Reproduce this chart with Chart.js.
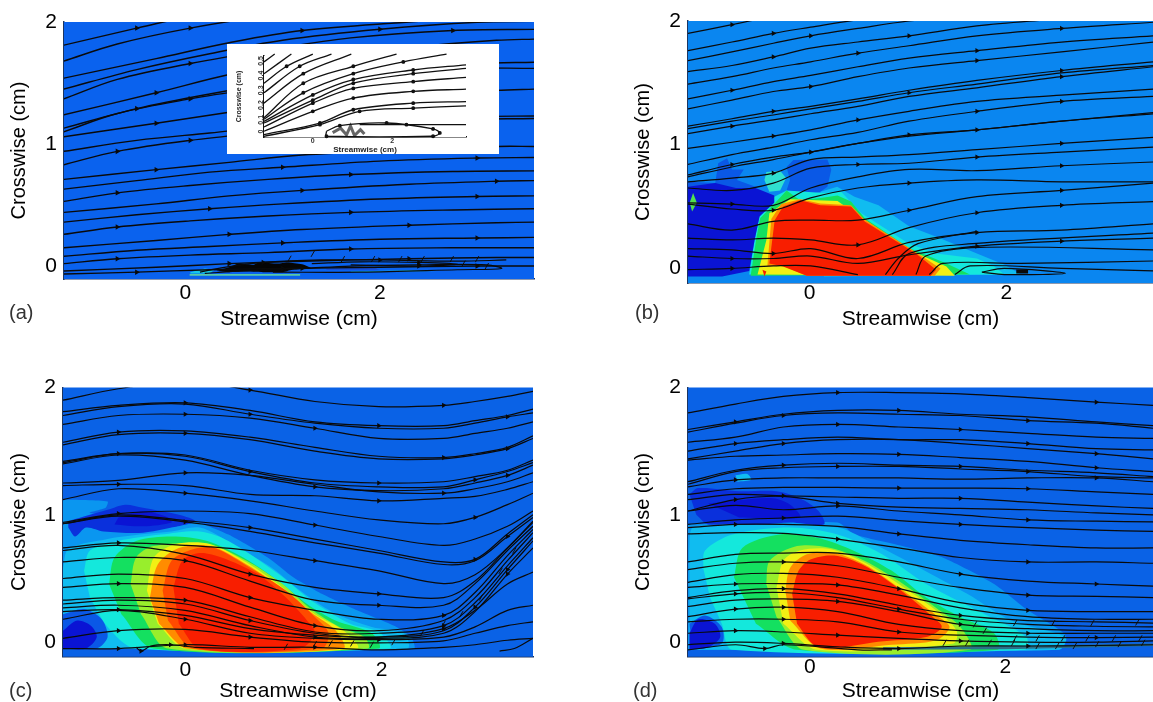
<!DOCTYPE html>
<html>
<head>
<meta charset="utf-8">
<script src="https://cdn.jsdelivr.net/npm/chart.js@4"></script>
<style>
body { margin: 0; background: #fff; }
canvas { position: absolute; filter: blur(0.4px); }
</style>
</head>
<body>
<canvas id="panelA" width="560" height="330" style="left:0;top:0"></canvas>
<canvas id="panelB" width="533" height="330" style="left:620px;top:0"></canvas>
<canvas id="panelC" width="560" height="332" style="left:0;top:370px"></canvas>
<canvas id="panelD" width="533" height="332" style="left:620px;top:370px"></canvas>
<canvas id="inset" width="272" height="110" style="left:227px;top:44px;background:#fff"></canvas>
<script>
const xTickValues = [0, 2];
const yTickValues = [0, 1, 2];
const insetYTicks = [0, 0.1, 0.2, 0.3, 0.4, 0.5];

// panel (a)
const aGrids = [
  [-1.25, -0.5, 0.25, 1, 2, 3, 3.6],
  [-1.25, -0.7, 0.05, 0.85, 1.7, 2.75, 3.6],
  [-1.25, -0.3, 0.45, 1.2, 2.3, 3.2, 3.6]
];
const aLines = [
  [1.81, 1.95, 2.08, 2.18, 2.28, 2.35, 2.38],
  [1.68, 1.82, 1.95, 2.05, 2.12, 2.17, 2.19],
  [1.54, 1.70, 1.83, 1.93, 2.00, 2.05, 2.07],
  [1.45, 1.61, 1.74, 1.85, 1.94, 1.998, 2.005],
  [1.37, 1.53, 1.66, 1.77, 1.87, 1.93, 1.94],
  [1.24, 1.42, 1.57, 1.68, 1.79, 1.85, 1.86],
  [1.13, 1.29, 1.41, 1.51, 1.61, 1.66, 1.67],
  [1.10, 1.25, 1.37, 1.47, 1.57, 1.62, 1.62],
  [1.06, 1.17, 1.26, 1.34, 1.40, 1.44, 1.45],
  [0.94, 1.03, 1.09, 1.15, 1.20, 1.225, 1.23],
  [0.83, 0.94, 1.03, 1.10, 1.17, 1.20, 1.21],
  [0.71, 0.79, 0.85, 0.91, 0.95, 0.98, 0.98],
  [0.63, 0.70, 0.77, 0.81, 0.86, 0.885, 0.89],
  [0.53, 0.60, 0.66, 0.71, 0.75, 0.775, 0.78],
  [0.44, 0.51, 0.575, 0.62, 0.67, 0.695, 0.70],
  [0.36, 0.42, 0.47, 0.51, 0.55, 0.57, 0.575],
  [0.26, 0.32, 0.37, 0.41, 0.44, 0.46, 0.47],
  [0.15, 0.21, 0.26, 0.30, 0.335, 0.355, 0.36],
  [0.08, 0.13, 0.16, 0.19, 0.22, 0.23, 0.235],
  [0.02, 0.06, 0.09, 0.11, 0.14, 0.15, 0.15],
  [-0.04, -0.01, 0.02, 0.04, 0.06, 0.07, 0.07],
  [-0.065, -0.05, -0.03, -0.02, -0.01, 0, 0]
];
const aMarks = [[1], [2], [3], [4], [2, 5], [1], [1, 4], [2], [1, 3], [5], [1, 2, 4],
  [1, 4], [3, 5], [1, 4], [3, 5], [2, 5], [1, 4], [2, 4], [3, 5], [1, 4], [2, 4], [1, 3, 5]];
const aLoops = [
  [[0.15, -0.05], [0.4, -0.01], [0.8, 0.03], [1.4, 0.05], [2, 0.05], [2.8, 0.04], [3.3, 0.05]],
  [[0.2, -0.06], [0.6, -0.04], [1.2, -0.02], [1.7, 0], [2.4, 0.01], [3.1, 0.01], [3.25, -0.02], [2.8, -0.03], [1.8, -0.05], [0.9, -0.05]],
  [[1.3, 0.02], [1.8, 0.035], [2.4, 0.03], [2.8, 0.015], [2.4, 0], [1.7, 0.01]]
];
const aTickX = [1.31, 1.62, 1.93, 2.21, 2.44, 2.74, 3.0, 1.07, 2.86, 3.10];
const aTickY = [0.10, 0.057, 0.057, 0.057, 0.057, 0.057, 0.057, 0.06, 0.02, 0];
const aBlob = [[0.32, -0.04], [0.45, -0.01], [0.55, 0.02], [0.7, 0.01], [0.75, 0.03], [0.95, 0.02], [1.05, 0.03], [1.2, 0.015], [1.3, -0.02], [1.1, -0.03], [1.0, -0.05], [0.8, -0.05], [0.6, -0.045], [0.45, -0.05]];
const aStrip = [[0.044, -0.065], [1.18, -0.065], [1.18, -0.08], [0.044, -0.08]];
const aSpotLeft = [[0.05, -0.05], [0.2, -0.02], [0.3, -0.03], [0.25, -0.06], [0.05, -0.06]];
const aSpotRight = [[1.7, -0.045], [2.3, -0.035], [2.6, -0.04], [1.7, -0.05]];
const aBlueBits = [[1.45, -0.02], [1.95, -0.015], [2.0, -0.03], [1.45, -0.03]];

// panel (b)
const bX = [-1.24, -0.79, -0.37, 0.01, 0.49, 1.01, 1.70, 2.56, 3.49];
const bLines = [
  [1.90, 1.97, 2.04, 2.09, 2.14, 2.19, 2.25, 2.27, 2.30],
  [1.76, 1.83, 1.90, 1.95, 2.01, 2.06, 2.11, 2.17, 2.19],
  [1.68, 1.75, 1.82, 1.88, 1.94, 2.00, 2.05, 2.10, 2.15],
  [1.59, 1.64, 1.71, 1.78, 1.83, 1.88, 1.96, 2.02, 2.09],
  [1.49, 1.55, 1.62, 1.67, 1.74, 1.80, 1.88, 1.94, 1.99],
  [1.37, 1.44, 1.51, 1.56, 1.63, 1.70, 1.76, 1.83, 1.88],
  [1.29, 1.36, 1.43, 1.47, 1.55, 1.62, 1.68, 1.75, 1.83],
  [1.15, 1.21, 1.27, 1.31, 1.37, 1.44, 1.52, 1.60, 1.67],
  [1.13, 1.19, 1.24, 1.29, 1.35, 1.42, 1.49, 1.58, 1.64],
  [1.09, 1.15, 1.20, 1.25, 1.31, 1.39, 1.46, 1.55, 1.63],
  [0.97, 1.02, 1.07, 1.12, 1.20, 1.27, 1.35, 1.40, 1.45],
  [0.84, 0.92, 0.98, 1.04, 1.10, 1.19, 1.27, 1.35, 1.39],
  [0.755, 0.84, 0.90, 0.94, 1.01, 1.08, 1.12, 1.19, 1.26],
  [0.74, 0.82, 0.88, 0.94, 1.01, 1.07, 1.12, 1.19, 1.25],
  [0.70, 0.73, 0.77, 0.88, 0.90, 0.92, 0.96, 1.01, 1.06],
  [0.65, 0.63, 0.69, 0.81, 0.84, 0.85, 0.90, 0.94, 0.98],
  [0.53, 0.52, 0.51, 0.65, 0.74, 0.80, 0.79, 0.83, 0.86],
  [0.52, 0.48, 0.47, 0.57, 0.65, 0.69, 0.715, 0.70, 0.70],
  [0.36, 0.31, 0.38, 0.39, 0.39, 0.47, 0.58, 0.63, 0.69],
  [0.245, 0.23, 0.245, 0.23, 0.19, 0.33, 0.45, 0.51, 0.54],
  [0.16, 0.15, 0.12, 0.16, 0.08, 0.21, 0.29, 0.31, 0.36],
  [0.10, 0.08, 0.08, 0.10, 0.04, 0.11, 0.18, 0.22, 0.245],
  [-0.01, 0, 0.02, 0.02, -0.05, null, null, null, null]
];
const bMarks = [[1], [2], [3], [2, 5], [4, 7], [1, 6], [3, 6], [2, 7], [5], [1, 7], [2, 4], [6, 7], [1, 5], [3, 6],
  [2, 7], [4, 6], [1, 7], [2, 5], [5, 7], [4, 6, 7], [2, 6], [1, 6, 7], [1]];
const bExtra = [
  [[1.216, -0.05], [1.354, 0.04], [2.15, 0.04], [3.49, 0.06]],
  [[1.475, -0.05], [1.63, 0.02], [2.56, 0], [3.49, -0.02]],
  [[0.77, -0.05], [0.90, 0.08], [1.10, 0.20], [1.7, 0.30]],
  [[0.84, -0.05], [1.01, 0.12], [1.66, 0.20], [3.49, 0.285]],
  [[1.08, -0.05], [1.18, 0.10], [1.73, 0.17], [3.49, 0.15]],
  [[1.75, -0.03], [1.98, 0], [2.6, -0.04], [1.98, -0.05], [1.75, -0.03]]
];
const bBlob = [[2.10, -0.025], [2.22, -0.025]];
const bBlobLeft = [[-0.96, 0.69], [-0.93, 0.85], [-0.84, 0.89], [-0.79, 0.80], [-0.67, 0.80], [-0.74, 0.715], [-0.55, 0.66], [-0.55, 0.62], [-1.24, 0.62], [-1.24, 0.70]];
const bBlobMid = [[-0.235, 0.82], [-0.166, 0.876], [0.18, 0.88], [0.22, 0.80], [0.18, 0.66], [0.11, 0.62], [-0.097, 0.58], [-0.235, 0.63], [-0.20, 0.715]];
const bDeep = [[-1.24, 0.66], [-0.96, 0.69], [-0.75, 0.65], [-0.55, 0.65], [-0.36, 0.59], [-0.36, 0.53], [-0.51, 0.42], [-0.56, 0.23], [-0.615, -0.02], [-0.89, -0.065], [-1.24, -0.065]];
const bSpot = [[-1.22, 0.53], [-1.185, 0.61], [-1.147, 0.53], [-1.195, 0.46]];
const bTopCyan = [[-0.44, 0.78], [-0.30, 0.79], [-0.24, 0.73], [-0.30, 0.63], [-0.41, 0.62], [-0.46, 0.715]];
const bLight = [[0.11, 0.62], [0.28, 0.66], [0.456, 0.58], [0.70, 0.51], [1.01, 0.34], [1.32, 0.245], [1.70, 0.12], [1.98, 0.03], [2.15, -0.05], [0.145, -0.065]];
const bCyan = [[-0.615, -0.05], [-0.56, 0.23], [-0.51, 0.42], [-0.36, 0.58], [-0.235, 0.63], [0.145, 0.61], [0.32, 0.62], [0.525, 0.445], [1.01, 0.20], [1.285, 0.12], [1.70, 0.08], [1.87, 0.02], [1.98, -0.05]];
const bGreen = [[-0.60, -0.06], [-0.545, 0.23], [-0.504, 0.405], [-0.373, 0.51], [-0.235, 0.63], [-0.097, 0.55], [0.11, 0.57], [0.283, 0.59], [0.42, 0.54], [0.56, 0.405], [1.01, 0.165], [1.39, 0.04], [1.63, -0.05]];
const bYellow = [[-0.53, -0.05], [-0.44, 0.23], [-0.41, 0.445], [-0.20, 0.56], [0.283, 0.545], [0.49, 0.43], [1.04, 0.14], [1.39, 0.016], [1.475, -0.06]];
const bOrange = [[-0.43, 0.02], [-0.39, 0.40], [-0.29, 0.52], [-0.097, 0.56], [0.11, 0.525], [0.42, 0.51], [0.55, 0.40], [1.08, 0.13], [1.33, 0], [1.27, -0.06], [-0.03, -0.06], [-0.27, 0.02]];
const bRed = [[-0.41, 0.04], [-0.356, 0.39], [-0.27, 0.50], [-0.097, 0.55], [0.11, 0.51], [0.42, 0.50], [0.56, 0.38], [1.08, 0.12], [1.285, -0.01], [1.23, -0.06], [-0.03, -0.06], [-0.27, 0.016]];
const bRedSpot = [[-0.48, -0.01], [-0.44, -0.025], [-0.46, -0.065]];

// panel (c)
const cX = [-1.244, -0.68, 0, 0.66, 1.32, 1.97, 2.63, 2.95, 3.28, 3.54];
const cLines = [
  [1.90, 1.99, 2.05, 1.98, 1.89, 1.85, 1.86, 1.89, 1.93, 1.97],
  [1.81, 1.86, 1.88, 1.82, 1.73, 1.70, 1.70, 1.74, 1.78, 1.83],
  [1.78, 1.85, 1.87, 1.79, 1.72, 1.68, 1.68, 1.72, 1.77, 1.80],
  [1.71, 1.78, 1.79, 1.76, 1.68, 1.60, 1.60, 1.64, 1.68, 1.73],
  [1.57, 1.65, 1.66, 1.61, 1.53, 1.46, 1.45, 1.48, 1.53, 1.62],
  [1.55, 1.63, 1.64, 1.59, 1.50, 1.44, 1.44, 1.47, 1.52, 1.60],
  [1.42, 1.48, 1.47, 1.35, 1.275, 1.25, 1.26, 1.30, 1.35, 1.43],
  [1.41, 1.48, 1.46, 1.34, 1.25, 1.22, 1.22, 1.275, 1.34, 1.41],
  [1.40, 1.47, 1.43, 1.31, 1.22, 1.19, 1.205, 1.25, 1.31, 1.39],
  [1.25, 1.27, 1.33, 1.31, 1.24, 1.18, 1.17, 1.205, 1.26, 1.33],
  [1.23, 1.24, 1.23, 1.16, 1.15, 1.11, 1.13, 1.145, 1.20, 1.26],
  [1.12, 1.205, 1.17, 1.11, 1.03, 0.96, 0.93, 0.98, 1.08, 1.17],
  [0.94, 1.01, 1.03, 1.01, 0.92, 0.83, 0.76, 0.81, 0.91, 1.03],
  [0.93, 1.00, 0.955, 0.90, 0.81, 0.72, 0.63, 0.65, 0.85, 1.00],
  [0.93, 0.99, 0.945, 0.87, 0.78, 0.70, 0.61, 0.64, 0.83, 0.98],
  [0.74, 0.78, 0.76, 0.72, 0.64, 0.56, 0.46, 0.53, 0.74, 0.95],
  [0.72, 0.76, 0.69, 0.535, 0.43, 0.38, 0.35, 0.48, 0.74, 0.94],
  [0.63, 0.665, 0.64, 0.48, 0.33, 0.29, 0.29, 0.46, 0.72, 0.91],
  [0.50, 0.535, 0.50, 0.35, 0.25, 0.18, 0.21, 0.39, 0.68, 0.885],
  [0.43, 0.46, 0.43, 0.275, 0.13, 0.09, 0.17, 0.35, 0.64, 0.86],
  [0.33, 0.35, 0.33, 0.20, 0.08, 0.07, 0.13, 0.31, 0.60, 0.82],
  [0.30, 0.33, 0.30, 0.17, 0.07, 0.04, 0.09, 0.275, 0.57, 0.795],
  [0.27, 0.29, 0.25, 0.13, 0.04, 0.03, 0.07, 0.24, 0.535, 0.74],
  [0.24, 0.255, 0.21, 0.106, 0.055, 0.04, 0.106, 0.25, 0.457, 0.55],
  [0.18, 0.25, 0.18, 0.07, 0.03, 0.02, 0.04, 0.12, 0.25, 0.29],
  [0.03, 0.09, 0.10, 0.04, 0, -0.005, 0.01, 0.07, 0.13, 0.16],
  [-0.05, -0.05, -0.02, -0.04, -0.04, -0.06, -0.04, -0.02, 0.015, 0.03]
];
const cMarks = [[3, 6], [2, 5], [3, 8], [2, 4], [1, 6], [2, 8], [1, 5], [3, 7], [4, 8], [2, 6], [1, 5], [2, 7], [1, 4], [3, 7],
  [2, 8], [1, 4], [3, 5], [2, 5], [3, 6], [1, 4], [2, 6], [3, 7, 8], [4, 8], [1, 6], [2, 5], [1, 3], [1, 2, 4]];
const cBump = [[-0.5, -0.04], [-0.45, -0.07], [-0.35, -0.03], [-0.15, -0.02], [0.1, -0.04], [0.7, -0.05]];
const cTail = [[3.2, -0.07], [3.35, -0.05], [3.54, 0.03]];
const cTickX = [1.025, 1.32, 1.48, 1.70, 1.90, 2.12, 2.41, 2.63, 2.81, 3.01, 3.21, 3.35];
const cTickY = [-0.036, -0.015, -0.01, -0.01, -0.02, 0, 0.07, 0.145, 0.22, 0.35, 0.56, 0.72];
const cLight = [[-1.244, 1.12], [-0.79, 1.105], [-0.81, 1.055], [-0.97, 1.015], [0.08, 0.95], [0.44, 0.845], [0.84, 0.665], [1.10, 0.51], [1.39, 0.38], [1.75, 0.25], [2.15, 0.12], [2.30, 0.04], [2.33, -0.05], [-1.244, -0.05]];
const cTopBlue = [[-1.19, 0.95], [-0.97, 1.00], [-0.79, 1.04], [-0.61, 1.08], [-0.43, 1.055], [-0.065, 1.00], [0.10, 0.95], [-0.14, 0.90], [-0.43, 0.86], [-0.83, 0.87], [-1.01, 0.90], [-1.12, 0.83], [-1.19, 0.90]];
const cTopDeep = [[-0.68, 0.98], [-0.43, 1.03], [-0.175, 0.98], [-0.14, 0.94], [-0.43, 0.91], [-0.72, 0.925]];
const cSky = [[-1.244, 0.585], [-1.19, 0.73], [-0.79, 0.81], [-0.465, 0.845], [-0.14, 0.87], [0.15, 0.90], [0.48, 0.77], [0.88, 0.585], [1.17, 0.405], [1.50, 0.236], [1.90, 0.12], [2.225, 0.07], [2.26, -0.05], [-1.244, -0.05]];
const cCyan = [[-1.03, 0.56], [-0.97, 0.72], [-0.68, 0.795], [-0.25, 0.845], [0.15, 0.87], [0.44, 0.795], [0.95, 0.535], [1.28, 0.33], [1.68, 0.145], [1.97, 0.08], [2.08, -0.05], [-0.50, -0.05], [-0.79, 0.12], [-0.97, 0.35]];
const cGreen = [[-0.775, 0.457], [-0.72, 0.665], [-0.50, 0.795], [-0.14, 0.83], [0.225, 0.795], [0.59, 0.665], [0.95, 0.48], [1.24, 0.30], [1.53, 0.17], [1.90, 0.07], [1.97, -0.05], [-0.32, -0.05], [-0.65, 0.22]];
const cLime = [[-0.556, 0.457], [-0.50, 0.665], [-0.32, 0.755], [0.225, 0.77], [0.625, 0.64], [0.99, 0.457], [1.28, 0.26], [1.57, 0.12], [1.825, 0.04], [1.86, -0.05], [-0.175, -0.05], [-0.45, 0.22]];
const cYellow = [[-0.39, 0.405], [-0.32, 0.665], [-0.10, 0.77], [0.26, 0.77], [0.625, 0.625], [0.99, 0.43], [1.32, 0.22], [1.61, 0.093], [1.75, -0.05], [0, -0.05], [-0.28, 0.145]];
const cOrange = [[-0.36, 0.35], [-0.28, 0.61], [-0.065, 0.74], [0.26, 0.755], [0.625, 0.61], [0.99, 0.42], [1.28, 0.236], [1.53, 0.093], [1.61, -0.05], [0.025, -0.05], [-0.265, 0.145]];
const cRedOrange = [[-0.23, 0.405], [-0.14, 0.64], [0.08, 0.73], [0.30, 0.74], [0.66, 0.585], [1.025, 0.405], [1.32, 0.197], [1.46, 0.07], [1.39, -0.05], [0.08, -0.05], [-0.175, 0.17]];
const cRed = [[-0.12, 0.43], [-0.03, 0.64], [0.15, 0.70], [0.37, 0.665], [0.735, 0.535], [1.025, 0.35], [1.24, 0.17], [1.32, 0.07], [1.17, -0.05], [0.15, -0.05], [-0.065, 0.145]];
const cRing = [[-1.244, 0.22], [-1.03, 0.26], [-0.85, 0.18], [-0.79, 0.04], [-0.90, -0.05], [-1.244, -0.05]];
const cLowDeep = [[-1.244, 0.09], [-1.10, 0.17], [-0.96, 0.13], [-0.90, 0.04], [-1.01, -0.05], [-1.244, -0.05]];

// panel (d)
const dX = [-1.245, -0.76, -0.27, 0.285, 0.91, 1.54, 2.23, 2.93, 3.51];
const dLines = [
  [1.80, 1.87, 1.93, 1.96, 1.96, 1.95, 1.92, 1.885, 1.86],
  [1.67, 1.73, 1.79, 1.82, 1.82, 1.79, 1.77, 1.73, 1.70],
  [1.65, 1.72, 1.78, 1.80, 1.79, 1.78, 1.74, 1.72, 1.68],
  [1.57, 1.61, 1.69, 1.71, 1.69, 1.67, 1.64, 1.61, 1.60],
  [1.50, 1.56, 1.59, 1.61, 1.59, 1.59, 1.56, 1.52, 1.51],
  [1.44, 1.50, 1.56, 1.59, 1.59, 1.56, 1.52, 1.48, 1.44],
  [1.43, 1.46, 1.47, 1.48, 1.475, 1.45, 1.42, 1.37, 1.34],
  [1.26, 1.35, 1.39, 1.405, 1.39, 1.38, 1.35, 1.33, 1.30],
  [1.24, 1.34, 1.37, 1.38, 1.38, 1.36, 1.34, 1.30, 1.29],
  [1.22, 1.275, 1.29, 1.29, 1.29, 1.28, 1.29, 1.29, 1.26],
  [1.16, 1.205, 1.215, 1.215, 1.21, 1.21, 1.205, 1.18, 1.16],
  [1.12, 1.16, 1.15, 1.14, 1.13, 1.13, 1.10, 1.07, 1.05],
  [1.03, 1.12, 1.145, 1.09, 1.06, 1.05, 1.04, 1.015, 1.00],
  [1.03, 1.075, 1.04, 1.07, 1.03, 1.00, 0.96, 0.95, 0.945],
  [0.925, 0.96, 0.975, 0.99, 0.955, 0.925, 0.90, 0.88, 0.87],
  [0.90, 0.925, 0.925, 0.91, 0.85, 0.80, 0.765, 0.74, 0.74],
  [0.85, 0.86, 0.855, 0.81, 0.74, 0.665, 0.63, 0.63, 0.62],
  [0.63, 0.69, 0.70, 0.70, 0.63, 0.535, 0.48, 0.457, 0.44],
  [0.57, 0.62, 0.63, 0.60, 0.51, 0.43, 0.37, 0.36, 0.35],
  [0.47, 0.53, 0.54, 0.51, 0.42, 0.31, 0.25, 0.24, 0.24],
  [0.43, 0.457, 0.46, 0.45, 0.37, 0.27, 0.20, 0.18, 0.18],
  [0.35, 0.405, 0.42, 0.38, 0.29, 0.21, 0.17, 0.16, 0.15],
  [0.34, 0.38, 0.39, 0.35, 0.26, 0.18, 0.14, 0.125, 0.12],
  [0.28, 0.33, 0.34, 0.32, 0.24, 0.14, 0.106, 0.09, 0.09],
  [0.20, 0.26, 0.275, 0.24, 0.14, 0.09, 0.07, 0.07, 0.07],
  [0.16, 0.18, 0.18, 0.16, 0.08, 0.055, 0.04, 0.036, 0.04],
  [0.07, 0.09, 0.08, 0.055, 0.03, 0.01, 0, 0, 0.01],
  [-0.02, 0, -0.01, -0.036, -0.05, -0.03, -0.03, -0.026, -0.02]
];
const dMarks = [[3, 7], [1, 4], [2, 6], [3, 5], [1, 6], [2, 7], [4, 7], [2, 5], [3, 6], [1, 7], [4, 6], [2, 5], [1, 3], [3, 6],
  [2, 5], [1, 4], [3, 6], [5, 7], [2, 6], [4, 6], [1, 3], [2, 5], [1, 4], [3, 5], [1, 2, 6], [2, 4, 7], [1, 3, 5], [2, 4, 6]];
const dBump = [[-1.245, -0.06], [-0.76, -0.02], [-0.46, -0.05], [-0.27, -0.02], [0.49, -0.06], [0.84, -0.06]];
const dTickX = [2.10, 2.49, 2.89, 3.35, 1.69, 1.79, 2.10, 2.33, 2.59, 2.84, 3.11, 3.38, 1.38, 1.61, 1.84, 2.08, 2.33, 2.53, 2.71, 2.94, 3.17, 3.41];
const dTickY = [0.15, 0.15, 0.15, 0.155, 0.14, 0.09, 0.03, 0.03, 0.03, 0.03, 0.03, 0.03, -0.005, -0.005, -0.005, -0.005, -0.03, -0.03, -0.03, -0.015, -0.015, -0.005];
const dLight = [[-1.245, 0.925], [0.285, 0.94], [0.46, 0.845], [0.946, 0.755], [1.36, 0.665], [1.885, 0.457], [2.23, 0.25], [2.615, 0.055], [2.51, -0.06], [-1.245, -0.06]];
const dPatch = [[-0.76, 1.31], [-0.64, 1.32], [-0.60, 1.275], [-0.74, 1.26]];
const dTopBlue = [[-1.23, 1.16], [-1.14, 1.21], [-0.72, 1.185], [-0.34, 1.185], [-0.10, 1.13], [0.09, 1.03], [0.146, 0.925], [-0.20, 0.94], [-0.48, 0.925], [-1.04, 0.925], [-1.16, 1.00]];
const dTopDeep = [[-1.04, 1.09], [-0.72, 1.115], [-0.375, 1.13], [-0.20, 1.08], [-0.10, 0.98], [-0.72, 0.98]];
const dSky = [[-1.23, 0.56], [-1.23, 0.755], [-1.19, 0.90], [-0.48, 0.92], [0.285, 0.90], [0.67, 0.765], [1.12, 0.585], [1.61, 0.38], [2.06, 0.17], [2.615, 0.04], [2.55, -0.06], [-1.23, -0.06]];
const dCyan = [[-1.09, 0.585], [-1.07, 0.72], [-0.79, 0.845], [-0.20, 0.90], [0.285, 0.845], [0.74, 0.69], [1.19, 0.457], [1.71, 0.25], [2.215, 0.04], [2.20, -0.06], [-0.79, -0.06], [-0.90, 0.145], [-1.02, 0.35]];
const dGreen = [[-0.775, 0.51], [-0.69, 0.74], [-0.31, 0.845], [0.077, 0.82], [0.46, 0.715], [0.84, 0.56], [1.19, 0.35], [1.54, 0.197], [1.885, 0.07], [1.92, -0.06], [-0.13, -0.06], [-0.55, 0.145]];
const dLime = [[-0.445, 0.457], [-0.41, 0.64], [-0.13, 0.755], [0.216, 0.74], [0.56, 0.64], [0.91, 0.48], [1.29, 0.27], [1.54, 0.12], [1.64, -0.06], [-0.06, -0.06], [-0.34, 0.197]];
const dYellow = [[-0.34, 0.43], [-0.27, 0.64], [-0.10, 0.72], [0.216, 0.73], [0.56, 0.625], [0.91, 0.457], [1.29, 0.25], [1.50, 0.093], [1.47, -0.01], [0.077, -0.06], [-0.27, 0.145]];
const dOrange = [[-0.25, 0.405], [-0.20, 0.585], [-0.03, 0.69], [0.25, 0.70], [0.56, 0.61], [0.91, 0.43], [1.28, 0.22], [1.43, 0.12], [1.29, 0.015], [0.84, -0.02], [0.11, -0.05], [-0.20, 0.17]];
const dRed = [[-0.18, 0.38], [-0.115, 0.56], [0.007, 0.65], [0.25, 0.68], [0.56, 0.60], [0.91, 0.42], [1.24, 0.21], [1.35, 0.12], [1.19, 0.04], [0.70, 0.003], [0.216, -0.05], [0.04, -0.02], [-0.13, 0.145]];
const dRing = [[-1.23, 0.145], [-1.07, 0.21], [-0.90, 0.12], [-0.90, -0.01], [-1.2, -0.06]];
const dLowDeep = [[-1.23, 0.07], [-1.14, 0.18], [-0.97, 0.145], [-0.915, 0.04], [-1.04, -0.04], [-1.23, -0.06]];
const dStrip = [[0.75, -0.06], [2.0, -0.055], [3.51, -0.03], [3.51, -0.01], [2.0, -0.03], [0.75, -0.04]];

// inset of panel (a)
const insetLines = [
  [[-1.23, 0.46], [-0.96, 0.513]],
  [[-1.23, 0.38], [-0.54, 0.513]],
  [[-1.23, 0.315], [-0.66, 0.43], [0, 0.513]],
  [[-1.23, 0.25], [-0.33, 0.43], [0.47, 0.513]],
  [[-1.23, 0.18], [-0.24, 0.38], [0.97, 0.513]],
  [[-1.23, 0.08], [-0.24, 0.315], [1.02, 0.43], [2.11, 0.513]],
  [[-1.23, 0.07], [-0.24, 0.25], [1.02, 0.38], [2.28, 0.46], [3.37, 0.513]],
  [[-1.23, 0.056], [0, 0.236], [1.02, 0.34], [2.53, 0.405], [3.86, 0.44]],
  [[-1.23, 0.045], [0, 0.20], [1.02, 0.315], [2.53, 0.38], [3.86, 0.416]],
  [[-1.23, 0.018], [0, 0.18], [1.02, 0.28], [2.53, 0.326], [3.86, 0.355]],
  [[-1.23, -0.011], [0, 0.124], [1.02, 0.214], [2.53, 0.26], [3.86, 0.275]],
  [[-1.23, -0.034], [0.18, 0.045], [1.02, 0.135], [2.53, 0.18], [3.86, 0.19]],
  [[-1.23, -0.045], [0.18, 0.034], [1.18, 0.124], [2.53, 0.146], [3.86, 0.162]],
  [[0.345, -0.011], [0.68, 0.027], [1.86, 0.045], [3.03, 0.005], [3.2, -0.022], [3.03, -0.045], [0.345, -0.045], [0.345, -0.011]],
  [[1.18, 0.034], [2.36, 0.034], [3.86, 0.034]]
];
const insetBlob = [[0.5, -0.02], [0.7, 0.01], [0.85, -0.035], [0.95, 0.025], [1.05, -0.04], [1.2, 0], [1.3, -0.03]];

const fontFamily = '"Liberation Sans", Arial, sans-serif';
const base = { a: "#0a62ee", b: "#0a86f0", c: "#0a62e6", d: "#0a62e6" };
const shades = { blue: "#0a58e6", deep: "#0a14d4", top: "#0a30dc", light: "#0a96f0", sky: "#10bcf0", cyan: "#14e8dc",
  green: "#14e060", lime: "#98ee2c", yellow: "#f2f014", orange: "#ff8c00", redOrange: "#ff4a00", red: "#f81e00" };

const toPts = list => list.map(p => ({ x: p[0], y: p[1] }));

function shape(points, color, tension) {
  return { data: toPts(points), showLine: true, fill: "shape", backgroundColor: color, borderWidth: 0, pointRadius: 0, tension: tension || 0 };
}

function stream(points, marks, width) {
  return {
    data: points, showLine: true, fill: false, borderColor: "#0a0a0a", borderWidth: width || 1.2, tension: 0.35,
    pointStyle: "triangle", pointRotation: 90, backgroundColor: "#000", borderJoinStyle: "round",
    pointRadius: ctx => (marks && marks.includes(ctx.dataIndex) ? 1.8 : 0)
  };
}

function streams(grids, lines, marks, width) {
  return lines.map((line, i) => {
    const xs = grids[i % grids.length];
    return stream(line.map((y, k) => ({ x: xs[k], y })), marks[i], width);
  });
}

function tickMarks(xs, ys, rotation) {
  return {
    data: xs.map((x, i) => ({ x, y: ys[i] })), showLine: false,
    pointStyle: "line", pointRadius: 3.5, pointRotation: rotation, borderColor: "#111", borderWidth: 1
  };
}

const plotBg = {
  id: "plotBg",
  beforeDatasetsDraw(chart, args, opts) {
    const a = chart.chartArea;
    chart.ctx.fillStyle = opts.color;
    chart.ctx.fillRect(a.left, a.top, a.right - a.left, a.bottom - a.top);
  }
};

const panelLabel = {
  id: "panelLabel",
  afterDraw(chart, args, opts) {
    if (!opts.text) return;
    const ctx = chart.ctx;
    ctx.save();
    ctx.font = "20px " + fontFamily;
    ctx.fillStyle = "#333";
    ctx.textBaseline = "middle";
    ctx.fillText(opts.text, opts.x, opts.y);
    ctx.restore();
  }
};

function panel(id, datasets, cfg) {
  const canvas = document.getElementById(id);
  new Chart(canvas, {
    type: "scatter",
    data: { datasets },
    plugins: [plotBg, panelLabel],
    options: {
      responsive: false,
      animation: false,
      events: [],
      layout: { autoPadding: false, padding: { left: 0, top: cfg.top, right: canvas.width - cfg.right, bottom: 0 } },
      plugins: {
        legend: { display: false },
        tooltip: { enabled: false },
        plotBg: { color: cfg.color },
        panelLabel: cfg.label
      },
      scales: {
        x: {
          type: "linear", min: cfg.xMin, max: cfg.xMax,
          grid: { display: false, drawTicks: false }, border: { display: true, color: "#1c3560", width: 1.5 },
          afterFit: s => { s.height = canvas.height - cfg.bottom; },
          afterBuildTicks: s => { s.ticks = xTickValues.map(value => ({ value })); },
          ticks: { color: "#000", padding: cfg.xPad, maxRotation: 0, font: { family: fontFamily, size: 21, lineHeight: 1 } },
          title: { display: true, text: "Streamwise (cm)", color: "#000", padding: { top: cfg.xTitlePad, bottom: 0 }, font: { family: fontFamily, size: 21, lineHeight: 1 } }
        },
        y: {
          type: "linear", min: cfg.yMin, max: 2,
          grid: { display: false, drawTicks: false }, border: { display: true, color: "#1c3560", width: 1.5 },
          afterFit: s => { s.width = cfg.left; },
          afterBuildTicks: s => { s.ticks = yTickValues.map(value => ({ value })); },
          ticks: { color: "#000", padding: 7, font: { family: fontFamily, size: 21, lineHeight: 1 } },
          title: { display: true, text: "Crosswise (cm)", color: "#000", padding: { top: cfg.yTitlePad, bottom: 0 }, font: { family: fontFamily, size: 20, lineHeight: 1 } }
        }
      }
    }
  });
}

panel("panelA", [
  ...streams(aGrids, aLines, aMarks, 1.4),
  ...aLoops.map(l => stream(toPts(l), [2, 4], 1.2)),
  tickMarks(aTickX, aTickY, 300),
  shape(aBlob, "#050505", 0.2),
  shape(aBlueBits, "#1a4ad0"),
  shape(aSpotRight, "#14c8e8"),
  shape(aSpotLeft, "#14c8e8"),
  shape(aStrip, "#58c8a8")
], { color: base.a, top: 22, right: 534, bottom: 279, left: 64, xMin: -1.248, xMax: 3.585, yMin: -0.106, xPad: 4, xTitlePad: 6.5, yTitlePad: 9.5,
  label: { text: "(a)", x: 9, y: 313 } });

panel("panelB", [
  ...streams([bX], bLines, bMarks),
  ...bExtra.map(l => stream(toPts(l), [], 1.2)),
  stream(toPts(bBlob), [], 4),
  shape(bRedSpot, shades.red),
  shape(bRed, shades.red),
  shape(bOrange, shades.orange),
  shape(bYellow, shades.yellow),
  shape(bGreen, shades.green),
  shape(bSpot, "#50e050"),
  shape(bDeep, shades.deep),
  shape(bTopCyan, "#30e0d0"),
  shape(bCyan, shades.cyan),
  shape(bLight, shades.sky),
  shape(bBlobMid, shades.blue),
  shape(bBlobLeft, shades.blue)
], { color: base.b, top: 21, right: 533, bottom: 283, left: 68, xMin: -1.237, xMax: 3.49, yMin: -0.118, xPad: 0, xTitlePad: 3, yTitlePad: 13,
  label: { text: "(b)", x: 15, y: 313 } });

panel("panelC", [
  ...streams([cX], cLines, cMarks),
  stream(toPts(cBump), [1, 3]),
  stream(toPts(cTail), []),
  tickMarks(cTickX, cTickY, 300),
  shape(cLowDeep, shades.deep, 0.3),
  shape(cRing, shades.blue, 0.3),
  shape(cRed, shades.red, 0.3),
  shape(cRedOrange, shades.redOrange, 0.3),
  shape(cOrange, shades.orange, 0.3),
  shape(cYellow, shades.yellow, 0.3),
  shape(cLime, shades.lime, 0.3),
  shape(cGreen, shades.green, 0.3),
  shape(cCyan, shades.cyan, 0.3),
  shape(cSky, shades.sky, 0.3),
  shape(cTopDeep, shades.deep, 0.3),
  shape(cTopBlue, shades.top, 0.3),
  shape(cLight, shades.light, 0.2)
], { color: base.c, top: 15.5, right: 533, bottom: 286.7, left: 63, xMin: -1.244, xMax: 3.54, yMin: -0.114, xPad: 3, xTitlePad: 0.5, yTitlePad: 9,
  label: { text: "(c)", x: 9, y: 321 } });

panel("panelD", [
  ...streams([dX], dLines, dMarks),
  stream(toPts(dBump), [2]),
  tickMarks(dTickX, dTickY, 300),
  shape(dStrip, "#2a7088"),
  shape(dLowDeep, shades.deep, 0.3),
  shape(dRing, shades.blue, 0.3),
  shape(dRed, shades.red, 0.3),
  shape(dOrange, shades.orange, 0.3),
  shape(dYellow, shades.yellow, 0.3),
  shape(dLime, shades.lime, 0.3),
  shape(dGreen, shades.green, 0.3),
  shape(dCyan, shades.cyan, 0.3),
  shape(dSky, shades.sky, 0.3),
  shape(dTopDeep, shades.deep, 0.3),
  shape(dTopBlue, shades.top, 0.3),
  shape(dPatch, shades.sky, 0.3),
  shape(dLight, shades.light, 0.2)
], { color: base.d, top: 15.5, right: 533, bottom: 286.7, left: 68, xMin: -1.245, xMax: 3.51, yMin: -0.114, xPad: 0, xTitlePad: 0.5, yTitlePad: 13,
  label: { text: "(d)", x: 13, y: 321 } });

const insetCanvas = document.getElementById("inset");
new Chart(insetCanvas, {
  type: "scatter",
  data: {
    datasets: [
      ...insetLines.map(l => ({
        data: toPts(l), showLine: true, clip: false, borderColor: "#111", borderWidth: 1.3, tension: 0.35,
        pointStyle: "circle", backgroundColor: "#111", borderJoinStyle: "round",
        pointRadius: ctx => (ctx.dataIndex > 0 && ctx.dataIndex < l.length - 1 ? 1.3 : 0)
      })),
      { data: toPts(insetBlob), showLine: true, borderColor: "#666", borderWidth: 3, pointRadius: 0 }
    ]
  },
  plugins: [plotBg],
  options: {
    responsive: false,
    animation: false,
    events: [],
    layout: { autoPadding: false, padding: { left: 0, top: 12, right: 33, bottom: 0 } },
    plugins: { legend: { display: false }, tooltip: { enabled: false }, plotBg: { color: "#fff" } },
    scales: {
      x: {
        type: "linear", min: -1.23, max: 3.86,
        grid: { display: false, drawTicks: false }, border: { display: true, color: "#111", width: 1.5 },
        afterFit: s => { s.height = 17; },
        afterBuildTicks: s => { s.ticks = xTickValues.map(value => ({ value })); },
        ticks: { color: "#333", padding: 1, maxRotation: 0, font: { family: fontFamily, size: 7, weight: "bold", lineHeight: 1 } },
        title: { display: true, text: "Streamwise (cm)", color: "#222", padding: { top: 2, bottom: 0 }, font: { family: fontFamily, size: 8, weight: "bold", lineHeight: 1 } }
      },
      y: {
        type: "linear", min: -0.05, max: 0.5,
        grid: { display: false, drawTicks: false }, border: { display: true, color: "#111", width: 1.5 },
        afterFit: s => { s.width = 37; },
        afterBuildTicks: s => { s.ticks = insetYTicks.map(value => ({ value })); },
        ticks: { color: "#333", padding: 3, minRotation: 90, maxRotation: 90, font: { family: fontFamily, size: 7, weight: "bold", lineHeight: 1 } },
        title: { display: true, text: "Crosswise (cm)", color: "#222", padding: { top: 8.5, bottom: 0 }, font: { family: fontFamily, size: 7, weight: "bold", lineHeight: 1 } }
      }
    }
  }
});
</script>
</body>
</html>
